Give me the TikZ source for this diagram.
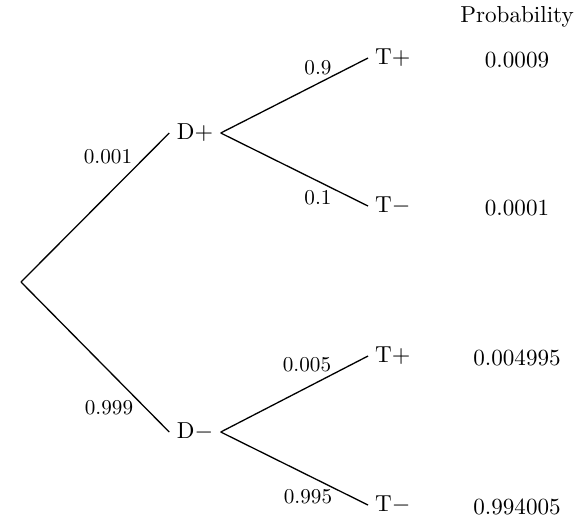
\documentclass[tikz,border=0pt]{standalone}
\begin{document}
\begin{tikzpicture}[x=0.4587pt,y=-0.4587pt,line width=0.6pt,
  every node/.style={font=\fontsize{10.6}{12}\selectfont},
  dnode/.style={inner xsep=3.2pt,inner ysep=1pt},
  tnode/.style={anchor=west,inner xsep=3pt,inner ysep=1pt},
  elabel/.style={inner sep=0pt,font=\fontsize{9.7}{11}\selectfont},
  plabel/.style={inner sep=0pt}]
\useasboundingbox (0,0) rectangle (585,518);
\coordinate (r) at (21,282);
\node[dnode] (Dp) at (195,133) {D$+$};
\node[dnode] (Dm) at (195,432) {D$-$};
\node[tnode] (Tpp) at (368,58) {T$+$};
\node[tnode] (Tpm) at (368,206) {T$-$};
\node[tnode] (Tmp) at (368,356) {T$+$};
\node[tnode] (Tmm) at (368,505) {T$-$};
\draw (r) -- (Dp.west);
\draw (r) -- (Dm.west);
\draw (Dp.east) -- (Tpp.west);
\draw (Dp.east) -- (Tpm.west);
\draw (Dm.east) -- (Tmp.west);
\draw (Dm.east) -- (Tmm.west);
\node[elabel] (l1) at (108,157) {0.001};
\node[elabel] (l2) at (109,408) {0.999};
\node[elabel] (l3) at (318,68) {0.9};
\node[elabel] (l4) at (318,198) {0.1};
\node[elabel] (l5) at (307,365) {0.005};
\node[elabel] (l6) at (308,497) {0.995};
\node[plabel] (ph) at (517,17) {Probability};
\node[plabel] (p1) at (517,60) {0.0009};
\node[plabel] (p2) at (517,208) {0.0001};
\node[plabel] (p3) at (517,358) {0.004995};
\node[plabel] (p4) at (517,507) {0.994005};
\end{tikzpicture}
\end{document}
